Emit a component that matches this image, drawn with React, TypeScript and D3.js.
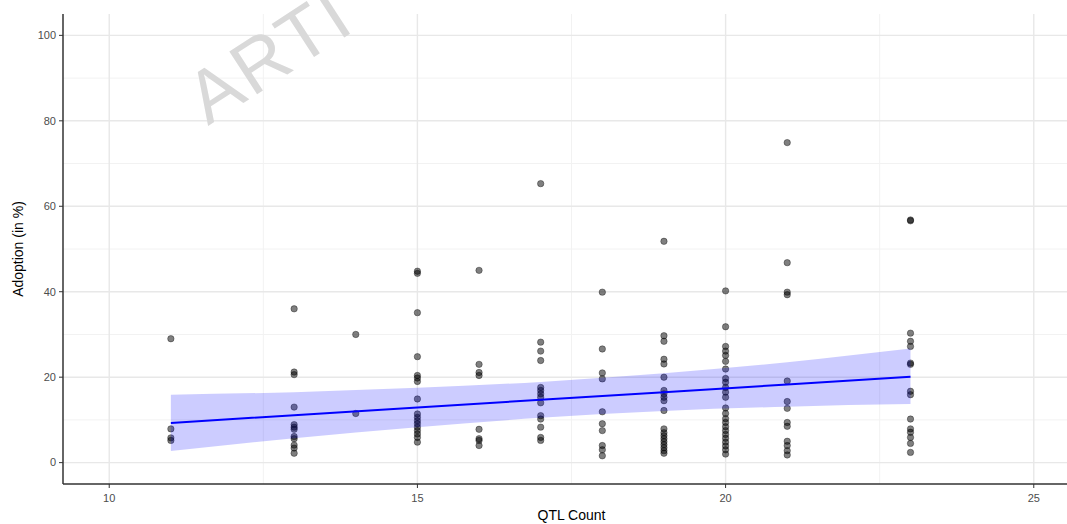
import * as d3 from "d3";
import React from "react";

// QTL count groups and the adoption values
const qtlGroups = [11, 13, 14, 15, 16, 17, 18, 19, 20, 21, 23];
const adoptionByGroup: number[][] = [
  [29.0, 7.9, 5.8, 5.2],
  [36.0, 21.2, 20.6, 13.0, 8.9, 8.3, 7.8, 6.1, 5.6, 4.1, 3.4, 2.2],
  [30.0, 11.5],
  [44.8, 44.3, 35.1, 24.8, 20.4, 19.8, 19.0, 14.9, 11.4, 10.6, 9.8, 9.1, 8.3, 7.5, 6.7, 5.9, 4.8],
  [45.0, 23.0, 21.1, 20.4, 7.8, 5.6, 5.2, 4.0],
  [65.3, 28.2, 26.1, 23.9, 17.6, 16.9, 16.1, 15.3, 14.0, 11.0, 10.2, 8.3, 5.9, 5.2],
  [39.9, 26.6, 21.0, 19.6, 11.9, 9.1, 7.5, 4.0, 3.0, 1.6],
  [51.8, 29.7, 28.4, 24.2, 23.1, 20.0, 16.9, 16.1, 15.3, 14.5, 12.2, 7.9, 7.0, 6.3, 5.6, 4.9, 4.2, 3.5, 2.8, 2.2],
  [40.2, 31.8, 27.2, 26.1, 25.1, 23.7, 21.9, 19.7, 18.8, 17.6, 16.5, 15.3, 12.8, 11.5, 10.3, 9.4, 8.4, 7.5, 6.6, 5.7, 4.8, 3.9, 3.0, 2.0],
  [74.9, 46.8, 39.9, 39.3, 19.1, 14.3, 12.7, 9.4, 8.5, 5.0, 4.0, 2.8, 1.8],
  [56.8, 56.6, 30.3, 28.4, 27.2, 23.3, 23.0, 16.7, 15.9, 10.2, 7.9, 7.1, 5.9, 4.5, 2.4],
];

// linear fit and its confidence band
const fitX = [11, 13, 15, 17, 19, 21, 23];
const fitY = [9.3, 11.1, 12.9, 14.7, 16.5, 18.3, 20.1];
const fitLow = [2.7, 5.7, 8.3, 10.5, 12.1, 13.1, 13.7];
const fitHigh = [15.9, 16.5, 17.5, 18.9, 20.9, 23.5, 26.7];

const xTicks = [10, 15, 20, 25];
const xMinor = [12.5, 17.5, 22.5];
const yTicks = [0, 20, 40, 60, 80, 100];
const yMinor = [10, 30, 50, 70, 90];

const W = 1067;
const H = 524;
const FONT = "'Liberation Sans', Arial, sans-serif";

export default function App() {
  const left = 63, top = 14, bottom = 484, right = 1080;
  const x = d3.scaleLinear().domain([9.25, 25.75]).range([left, right]);
  const y = d3.scaleLinear().domain([-5, 105]).range([bottom, top]);

  const points = qtlGroups.flatMap((q, i) => adoptionByGroup[i].map(v => ({ q, v })));
  const band = fitX.map((fx, i) => ({ fx, lo: fitLow[i], hi: fitHigh[i], fy: fitY[i] }));

  const area = d3.area<typeof band[number]>()
    .x(d => x(d.fx)).y0(d => y(d.lo)).y1(d => y(d.hi))
    .curve(d3.curveMonotoneX);
  const line = d3.line<typeof band[number]>().x(d => x(d.fx)).y(d => y(d.fy));

  return (
    <div style={{ position: "absolute", left: 0, top: 0 }}>
      <svg width={W} height={H} style={{ display: "block", background: "#fff" }}>
        <defs>
          <clipPath id="panel">
            <rect x={left} y={top} width={right - left} height={bottom - top} />
          </clipPath>
        </defs>
        <g clipPath="url(#panel)">
          {yMinor.map(t => (
            <line key={"ym" + t} x1={left} x2={right} y1={y(t)} y2={y(t)} stroke="#f2f2f2" strokeWidth={1} />
          ))}
          {xMinor.map(t => (
            <line key={"xm" + t} x1={x(t)} x2={x(t)} y1={top} y2={bottom} stroke="#f2f2f2" strokeWidth={1} />
          ))}
          {yTicks.map(t => (
            <line key={"yg" + t} x1={left} x2={right} y1={y(t)} y2={y(t)} stroke="#e8e8e8" strokeWidth={1.4} />
          ))}
          {xTicks.map(t => (
            <line key={"xg" + t} x1={x(t)} x2={x(t)} y1={top} y2={bottom} stroke="#e8e8e8" strokeWidth={1.4} />
          ))}
        </g>

        <text
          x={208} y={126}
          transform="rotate(-33 208 126)"
          fontFamily={FONT} fontSize={74} fill="#d9d9d9" letterSpacing={3}
        >ARTI</text>

        <g>
          {points.map((p, i) => (
            <circle key={i} cx={x(p.q)} cy={y(p.v)} r={3.2}
              fill="#000" fillOpacity={0.5} stroke="#000" strokeOpacity={0.45} strokeWidth={0.8} />
          ))}
        </g>

        <path d={area(band) || ""} fill="#0000ff" fillOpacity={0.2} />
        <path d={line(band) || ""} fill="none" stroke="#0000ff" strokeWidth={2} />

        <line x1={left} x2={left} y1={top} y2={bottom} stroke="#333" strokeWidth={1.5} />
        <line x1={left} x2={W} y1={bottom} y2={bottom} stroke="#333" strokeWidth={1.5} />

        {yTicks.map(t => (
          <g key={"yt" + t}>
            <line x1={left - 4} x2={left} y1={y(t)} y2={y(t)} stroke="#333" strokeWidth={1} />
            <text x={left - 7} y={y(t)} dy="0.35em" textAnchor="end" fontFamily={FONT} fontSize={11} fill="#4d4d4d">{t}</text>
          </g>
        ))}
        {xTicks.map(t => (
          <g key={"xt" + t}>
            <line x1={x(t)} x2={x(t)} y1={bottom} y2={bottom + 4} stroke="#333" strokeWidth={1} />
            <text x={x(t)} y={502} textAnchor="middle" fontFamily={FONT} fontSize={11} fill="#4d4d4d">{t}</text>
          </g>
        ))}

        <text x={(left + right) / 2} y={520} textAnchor="middle" fontFamily={FONT} fontSize={14} fill="#000">QTL Count</text>
        <text transform={`translate(23, ${(top + bottom) / 2}) rotate(-90)`} textAnchor="middle"
          fontFamily={FONT} fontSize={14} fill="#000">Adoption (in %)</text>
      </svg>
    </div>
  );
}
